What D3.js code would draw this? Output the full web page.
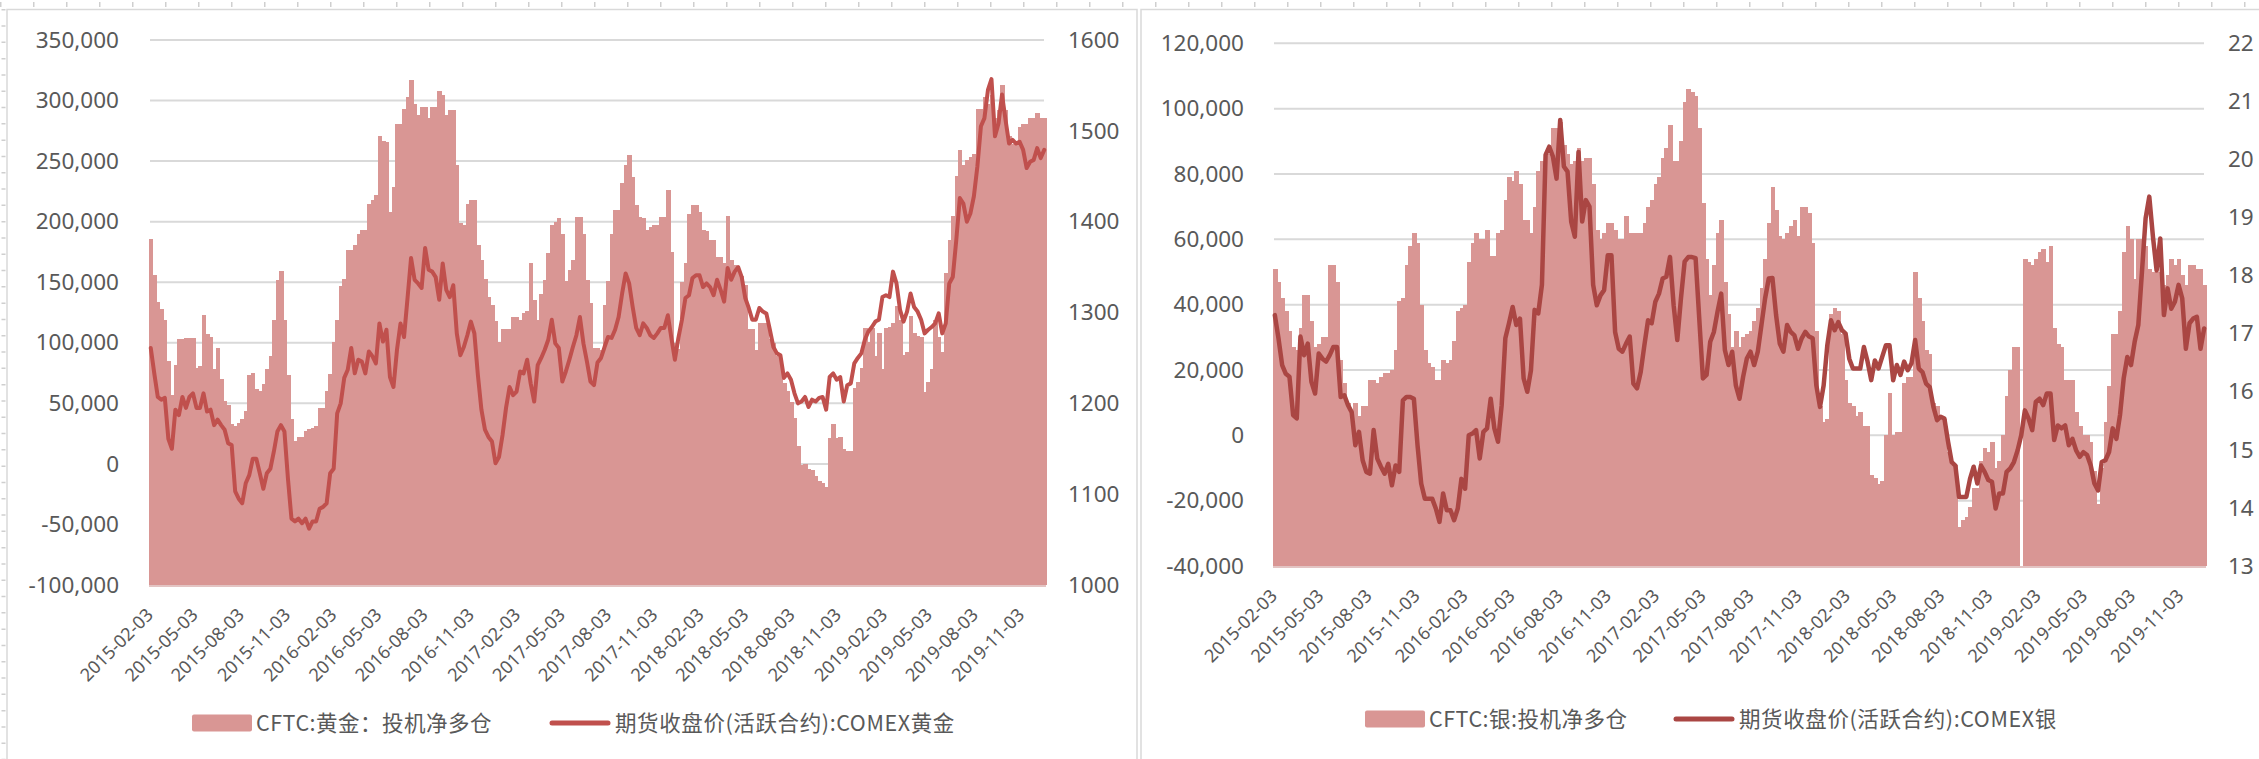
<!DOCTYPE html>
<html>
<head>
<meta charset="utf-8">
<script src="https://cdn.jsdelivr.net/npm/d3@7"></script>
<style>
  body { margin: 0; background: #fff; }
  svg text { fill: #595959; }
</style>
</head>
<body>
<svg id="chart" width="2259" height="759"></svg>
<script>
// weekly observations, first one on 2015-02-03
const startDate = "2015-02-03";
const weekCount = 255;

const tickLabels = ["2015-02-03", "2015-05-03", "2015-08-03", "2015-11-03", "2016-02-03", "2016-05-03",
    "2016-08-03", "2016-11-03", "2017-02-03", "2017-05-03", "2017-08-03", "2017-11-03", "2018-02-03",
    "2018-05-03", "2018-08-03", "2018-11-03", "2019-02-03", "2019-05-03", "2019-08-03", "2019-11-03"];

// CFTC gold speculative net long (contracts)
const goldNetLong = [
    186000, 156000, 134000, 128000, 119000, 85000, 57000, 82000, 103000, 103000,
    104000, 104000, 104000, 79000, 81000, 123000, 107000, 105000, 78000, 96000,
    70000, 52000, 49000, 33000, 31000, 34000, 37000, 44000, 73000, 75000,
    62000, 60000, 66000, 78000, 89000, 119000, 152000, 159000, 119000, 73000,
    37000, 19000, 22000, 22000, 27000, 29000, 30000, 31000, 46000, 46000,
    60000, 74000, 101000, 119000, 147000, 153000, 177000, 177000, 181000, 190000,
    193000, 193000, 215000, 218000, 222000, 271000, 267000, 266000, 208000, 229000,
    281000, 281000, 293000, 303000, 317000, 297000, 288000, 295000, 295000, 286000,
    295000, 295000, 308000, 305000, 288000, 292000, 292000, 247000, 199000, 197000,
    215000, 218000, 218000, 181000, 168000, 153000, 138000, 131000, 118000, 101000,
    111000, 111000, 111000, 121000, 121000, 119000, 125000, 126000, 166000, 135000,
    119000, 140000, 152000, 174000, 197000, 200000, 203000, 190000, 151000, 160000,
    168000, 204000, 204000, 190000, 152000, 133000, 96000, 96000, 94000, 131000,
    151000, 190000, 210000, 210000, 232000, 247000, 255000, 237000, 214000, 204000,
    203000, 193000, 196000, 197000, 197000, 204000, 204000, 226000, 175000, 100000,
    95000, 150000, 166000, 206000, 214000, 214000, 208000, 193000, 192000, 185000,
    185000, 171000, 171000, 166000, 205000, 168000, 164000, 160000, 155000, 148000,
    111000, 111000, 94000, 116000, 116000, 116000, 103000, 100000, 89000, 81000,
    67000, 60000, 51000, 38000, 15000, -1000, 0, -4000, -5000, -10000,
    -14000, -16000, -19000, 21000, 33000, 21000, 22000, 12000, 11000, 11000,
    63000, 68000, 79000, 112000, 101000, 112000, 89000, 108000, 78000, 112000,
    113000, 116000, 130000, 119000, 90000, 92000, 122000, 108000, 106000, 105000,
    59000, 68000, 78000, 119000, 105000, 92000, 158000, 185000, 205000, 238000,
    259000, 247000, 251000, 253000, 256000, 293000, 293000, 303000, 297000, 305000,
    286000, 292000, 313000, 292000, 271000, 264000, 264000, 278000, 281000, 281000,
    286000, 286000, 290000, 286000, 286000
];

// COMEX gold, active contract close (USD/oz)
const goldClose = [
    1261, 1233, 1207, 1204, 1206, 1161, 1150, 1193, 1187, 1207,
    1195, 1207, 1211, 1195, 1195, 1211, 1191, 1193, 1176, 1182,
    1176, 1171, 1156, 1154, 1103, 1095, 1090, 1112, 1121, 1139,
    1139, 1123, 1106, 1123, 1128, 1147, 1169, 1176, 1169, 1117,
    1073, 1070, 1073, 1068, 1073, 1062, 1070, 1070, 1084, 1086,
    1090, 1123, 1128, 1189, 1200, 1228, 1237, 1261, 1233, 1248,
    1246, 1233, 1257, 1252, 1244, 1288, 1268, 1281, 1229, 1218,
    1259, 1288, 1273, 1316, 1360, 1336, 1332, 1327, 1371, 1347,
    1345, 1339, 1314, 1354, 1325, 1317, 1330, 1277, 1253, 1262,
    1275, 1290, 1277, 1231, 1193, 1171, 1163, 1158, 1134, 1141,
    1165, 1195, 1218, 1209, 1213, 1235, 1233, 1248, 1222, 1202,
    1242, 1250, 1259, 1270, 1292, 1266, 1261, 1224, 1235, 1248,
    1262, 1275, 1295, 1266, 1246, 1224, 1220, 1245, 1250, 1262,
    1273, 1272, 1281, 1295, 1321, 1343, 1332, 1306, 1283, 1275,
    1288, 1283, 1275, 1272, 1277, 1283, 1283, 1297, 1272, 1248,
    1272, 1292, 1316, 1319, 1338, 1341, 1341, 1328, 1332, 1328,
    1319, 1336, 1325, 1312, 1349, 1336, 1345, 1350, 1339, 1316,
    1305, 1292, 1292, 1305, 1301, 1299, 1281, 1262, 1255, 1253,
    1228, 1233, 1226, 1211, 1200, 1202, 1207, 1196, 1204, 1202,
    1206, 1207, 1193, 1229, 1233, 1226, 1229, 1202, 1220, 1222,
    1244, 1250, 1255, 1270, 1279, 1284, 1290, 1292, 1317, 1319,
    1317, 1345, 1332, 1303, 1290, 1301, 1321, 1306, 1301, 1292,
    1277, 1281, 1284, 1288, 1299, 1277, 1288, 1332, 1339, 1380,
    1426, 1420, 1400, 1409, 1428, 1461, 1505, 1514, 1545, 1557,
    1494, 1508, 1540, 1512, 1486, 1490, 1486, 1488, 1479, 1459,
    1466, 1468, 1481, 1470, 1479
];

// CFTC silver speculative net long (contracts); null = week not reported
const silverNetLong = [
    51000, 47000, 42000, 38000, 32000, 27000, 26000, 33000, 43000, 43000,
    35000, 27000, 28000, 30000, 30000, 52000, 52000, 47000, 23000, 16000,
    10000, 5000, 10000, 6000, 9000, 9000, 17000, 17000, 16000, 18000,
    19000, 19000, 20000, 26000, 41000, 42000, 52000, 58000, 62000, 59000,
    40000, 26000, 22000, 21000, 17000, 17000, 23000, 22000, 23000, 29000,
    38000, 39000, 40000, 53000, 59000, 62000, 60000, 60000, 63000, 55000,
    55000, 62000, 63000, 72000, 79000, 78000, 81000, 77000, 66000, 66000,
    62000, 70000, 81000, 84000, 85000, 86000, 94000, 94000, 96000, 89000,
    86000, 83000, 84000, 88000, 84000, 85000, 85000, 77000, 63000, 60000,
    62000, 65000, 65000, 63000, 60000, 60000, 67000, 62000, 62000, 62000,
    62000, 65000, 70000, 72000, 77000, 79000, 85000, 88000, 95000, 84000,
    84000, 90000, 102000, 106000, 105000, 104000, 94000, 71000, 54000, 43000,
    52000, 62000, 66000, 47000, 37000, 27000, 32000, 27000, 30000, 31000,
    32000, 35000, 39000, 45000, 54000, 65000, 76000, 69000, 61000, 60000,
    62000, 64000, 66000, 61000, 70000, 70000, 68000, 59000, 32000, 9000,
    4000, 5000, 37000, 39000, 38000, 31000, 17000, 10000, 9000, 6000,
    7000, 3000, 3000, -12000, -13000, -15000, -14000, 0, 13000, 0,
    1000, 1000, 16000, 18000, 18000, 50000, 42000, 35000, 26000, 25000,
    10000, 9000, 5000, 5000, -5000, -9000, -9000, -28000, -26000, -25000,
    -22000, -16000, -16000, -8000, -4000, -5000, -2000, -10000, -8000, 0,
    12000, 20000, 27000, 27000, null, 54000, 53000, 52000, 54000, 56000,
    57000, 53000, 58000, 33000, 28000, 27000, 17000, 17000, 17000, 7000,
    3000, 0, 0, -2000, -11000, -21000, -10000, 4000, 15000, 31000,
    31000, 38000, 56000, 64000, 60000, 48000, 60000, 60000, 58000, 51000,
    50000, 50000, 50000, 46000, 49000, 54000, 52000, 54000, 49000, 46000,
    52000, 52000, 51000, 51000, 46000
];

// COMEX silver, active contract close (USD/oz)
const silverClose = [
    17.32, 16.92, 16.46, 16.31, 16.26, 15.60, 15.54, 16.95, 16.63, 16.83,
    16.17, 15.97, 16.66, 16.57, 16.52, 16.63, 16.77, 16.77, 15.91, 15.94,
    15.77, 15.65, 15.08, 15.31, 14.82, 14.62, 14.59, 15.34, 14.85, 14.71,
    14.59, 14.76, 14.39, 14.73, 14.62, 15.85, 15.91, 15.91, 15.88, 15.08,
    14.42, 14.16, 14.16, 14.16, 13.99, 13.76, 14.25, 13.96, 13.96, 13.79,
    13.99, 14.50, 14.33, 15.25, 15.28, 15.34, 14.85, 15.31, 15.37, 15.88,
    15.37, 15.14, 15.77, 16.92, 17.18, 17.46, 17.15, 17.26, 16.23, 16.00,
    16.37, 17.41, 17.35, 17.84, 20.08, 20.22, 20.05, 19.67, 20.68, 19.88,
    19.79, 18.93, 18.67, 20.13, 18.93, 19.30, 19.19, 17.84, 17.49, 17.66,
    17.75, 18.35, 18.35, 17.03, 16.74, 16.69, 16.83, 16.95, 16.14, 16.06,
    16.34, 16.80, 17.23, 17.18, 17.55, 17.69, 17.95, 17.98, 18.32, 17.49,
    16.89, 17.61, 18.24, 18.32, 18.32, 18.30, 17.26, 16.23, 16.29, 16.86,
    17.03, 17.38, 17.69, 16.72, 16.46, 16.69, 16.11, 15.88, 16.26, 16.57,
    16.69, 16.46, 16.69, 17.15, 17.61, 17.95, 17.96, 17.32, 16.83, 16.69,
    17.15, 17.03, 16.97, 16.74, 16.92, 17.03, 16.95, 16.92, 16.11, 15.74,
    16.11, 16.80, 17.23, 17.06, 17.20, 17.06, 17.00, 16.57, 16.40, 16.40,
    16.40, 16.77, 16.52, 16.20, 16.54, 16.40, 16.60, 16.80, 16.80, 16.20,
    16.46, 16.29, 16.52, 16.37, 16.49, 16.89, 16.40, 16.34, 16.14, 16.08,
    15.74, 15.51, 15.57, 15.54, 15.14, 14.79, 14.73, 14.19, 14.19, 14.19,
    14.50, 14.71, 14.42, 14.73, 14.62, 14.48, 14.45, 13.99, 14.25, 14.25,
    14.62, 14.68, 14.79, 14.99, 15.25, 15.68, 15.54, 15.34, 15.83, 15.88,
    15.77, 15.97, 15.97, 15.17, 15.42, 15.37, 15.42, 15.08, 15.19, 14.99,
    14.88, 14.96, 14.91, 14.73, 14.42, 14.30, 14.79, 14.82, 14.96, 15.37,
    15.19, 15.60, 16.23, 16.60, 16.46, 16.86, 17.15, 18.07, 18.99, 19.36,
    18.67, 18.09, 18.64, 17.32, 17.78, 17.43, 17.55, 17.84, 17.61, 16.74,
    17.18, 17.26, 17.29, 16.74, 17.09
];

const goldLeftTicks = [-100000, -50000, 0, 50000, 100000, 150000, 200000, 250000, 300000, 350000];
const goldRightTicks = [1000, 1100, 1200, 1300, 1400, 1500, 1600];
const silverLeftTicks = [-40000, -20000, 0, 20000, 40000, 60000, 80000, 100000, 120000];
const silverRightTicks = [13, 14, 15, 16, 17, 18, 19, 20, 21, 22];

const goldLegend = ["CFTC:黄金：投机净多仓", "期货收盘价(活跃合约):COMEX黄金"];
const silverLegend = ["CFTC:银:投机净多仓", "期货收盘价(活跃合约):COMEX银"];

const BAR_COLOR = "#d99694";
const GRID_COLOR = "#d9d9d9";
const NUM_FONT = "'Noto Sans', 'DejaVu Sans', sans-serif";
const CJK_FONT = "'Noto Sans CJK SC', 'Noto Sans', sans-serif";

const parseDate = d3.utcParse("%Y-%m-%d");
const formatDate = d3.utcFormat("%Y-%m-%d");
const numFormat = d3.formatLocale({decimal: ".", thousands: ",", grouping: [3], currency: ["", ""], minus: "-"}).format(",");

const weeks = d3.range(weekCount).map(i => d3.utcDay.offset(parseDate(startDate), 7 * i));
const tickDates = tickLabels.map(parseDate);

const svg = d3.select("#chart");

// sheet frame: dotted ruler marks + the two chart boxes
svg.append("line")
    .attr("x1", 0).attr("x2", 2259).attr("y1", 4.5).attr("y2", 4.5)
    .attr("stroke", "#cfcfcf").attr("stroke-width", 5).attr("stroke-dasharray", "1.5 31.5");
svg.append("line")
    .attr("x1", 3.5).attr("x2", 3.5).attr("y1", 9).attr("y2", 759)
    .attr("stroke", "#cfcfcf").attr("stroke-width", 4).attr("stroke-dasharray", "1.5 14.8");
svg.append("rect")
    .attr("x", 7).attr("y", 9.5).attr("width", 1130).attr("height", 760)
    .attr("fill", "none").attr("stroke", GRID_COLOR).attr("stroke-width", 1.5);
svg.append("rect")
    .attr("x", 1141).attr("y", 9.5).attr("width", 1130).attr("height", 760)
    .attr("fill", "none").attr("stroke", GRID_COLOR).attr("stroke-width", 1.5);

function drawPanel(settings) {
    const s = settings;
    const g = svg.append("g");

    const half = 3.5;
    const x = d3.scaleUtc()
        .domain([d3.utcHour.offset(weeks[0], -half * 24), d3.utcHour.offset(weeks[weeks.length - 1], half * 24)])
        .range([s.left, s.right]);
    const yL = d3.scaleLinear().domain(s.leftDomain).range([s.bottom, s.top]);
    const yR = d3.scaleLinear().domain(s.rightDomain).range([s.bottom, s.top]);
    const bw = x(weeks[1]) - x(weeks[0]);

    // gridlines
    g.append("g").selectAll("line")
        .data(s.leftTicks.slice(1))
        .join("line")
        .attr("x1", s.left + 1).attr("x2", s.right - 2)
        .attr("y1", d => yL(d)).attr("y2", d => yL(d))
        .attr("stroke", GRID_COLOR).attr("stroke-width", 2);

    // net long bars, drawn up from the axis floor
    g.append("g")
        .attr("shape-rendering", "crispEdges")
        .selectAll("rect")
        .data(weeks.map((d, i) => ({date: d, v: s.bars[i]})).filter(d => d.v != null))
        .join("rect")
        .attr("x", d => x(d.date) - bw / 2)
        .attr("width", bw + 0.9)
        .attr("y", d => yL(d.v))
        .attr("height", d => s.bottom - yL(d.v))
        .attr("fill", BAR_COLOR);

    g.append("line")
        .attr("x1", s.left).attr("x2", s.right)
        .attr("y1", s.bottom + 1).attr("y2", s.bottom + 1)
        .attr("stroke", "#e3c4c3").attr("stroke-width", 2);

    // price line on the right axis
    const priceLine = d3.line()
        .defined(d => d.v != null)
        .x(d => x(d.date))
        .y(d => yR(d.v));
    g.append("path")
        .datum(weeks.map((d, i) => ({date: d, v: s.line[i]})))
        .attr("d", priceLine)
        .attr("fill", "none")
        .attr("stroke", s.lineColor)
        .attr("stroke-width", s.lineWidth)
        .attr("stroke-linejoin", "round")
        .attr("stroke-linecap", "round");

    // axes
    const leftAxis = g.append("g")
        .attr("transform", `translate(${s.leftLabelX},0)`)
        .call(d3.axisLeft(yL).tickValues(s.leftTicks).tickSize(0).tickPadding(0).tickFormat(numFormat));
    const rightAxis = g.append("g")
        .attr("transform", `translate(${s.rightLabelX},0)`)
        .call(d3.axisRight(yR).tickValues(s.rightTicks).tickSize(0).tickPadding(0).tickFormat(d3.format("d")));
    [leftAxis, rightAxis].forEach(a => {
        a.select(".domain").remove();
        a.selectAll("text")
            .attr("font-family", NUM_FONT)
            .attr("font-size", 22.5)
            .attr("fill", "#595959");
    });

    g.append("g").selectAll("text")
        .data(tickDates)
        .join("text")
        .attr("transform", d => `translate(${x(d) + 3.5},${s.bottom + 31}) rotate(-45)`)
        .attr("text-anchor", "end")
        .attr("font-family", NUM_FONT)
        .attr("font-size", 18)
        .text(d => formatDate(d));

    // legend
    const lg = g.append("g");
    lg.append("rect")
        .attr("x", s.legend.boxX).attr("y", s.legend.y - 8.5)
        .attr("width", 60).attr("height", 17).attr("rx", 2)
        .attr("fill", BAR_COLOR);
    lg.append("text")
        .attr("x", s.legend.boxX + 64).attr("y", s.legend.y)
        .attr("dy", "0.36em")
        .attr("font-family", CJK_FONT).attr("font-size", 21.5)
        .attr("letter-spacing", 0.5)
        .text(s.legend.labels[0]);
    lg.append("line")
        .attr("x1", s.legend.lineX + 2).attr("x2", s.legend.lineX + 58)
        .attr("y1", s.legend.y).attr("y2", s.legend.y)
        .attr("stroke", s.lineColor).attr("stroke-width", 5).attr("stroke-linecap", "round");
    lg.append("text")
        .attr("x", s.legend.lineX + 65).attr("y", s.legend.y)
        .attr("dy", "0.36em")
        .attr("font-family", CJK_FONT).attr("font-size", 21.5)
        .attr("letter-spacing", 0.6)
        .text(s.legend.labels[1]);
}

drawPanel({
    left: 149, right: 1046, top: 40, bottom: 585,
    leftDomain: [-100000, 350000], rightDomain: [1000, 1600],
    leftTicks: goldLeftTicks, rightTicks: goldRightTicks,
    leftLabelX: 119, rightLabelX: 1068,
    bars: goldNetLong, line: goldClose,
    lineColor: "#c0504d", lineWidth: 4,
    legend: {boxX: 192, lineX: 550, y: 723, labels: goldLegend}
});

drawPanel({
    left: 1273, right: 2206, top: 43.3, bottom: 566,
    leftDomain: [-40000, 120000], rightDomain: [13, 22],
    leftTicks: silverLeftTicks, rightTicks: silverRightTicks,
    leftLabelX: 1244, rightLabelX: 2228,
    bars: silverNetLong, line: silverClose,
    lineColor: "#aa4643", lineWidth: 4.5,
    legend: {boxX: 1365, lineX: 1674, y: 719, labels: silverLegend}
});
</script>
</body>
</html>
